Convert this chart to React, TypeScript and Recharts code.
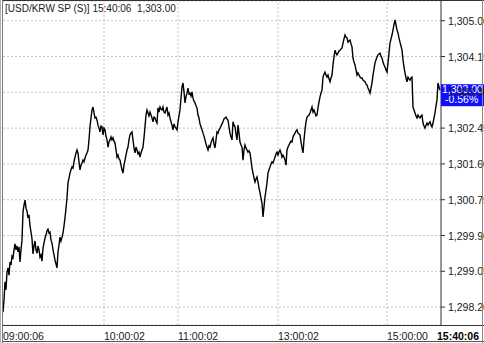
import { LineChart, Line, XAxis, YAxis, CartesianGrid, ReferenceLine, ReferenceDot } from 'recharts'

const TITLE = '[USD/KRW SP (S)] 15:40:06  1,303.00'
const lastPriceLabel = '1,303.00'
const changeLabel = '-0.56%'

// one value per tick step
const prices: number[] = [
  1298.08, 1298.37, 1298.80, 1298.61, 1299.03, 1299.13, 1298.96, 1299.27, 1299.20, 1299.41,
  1299.37, 1299.56, 1299.70, 1299.56, 1299.65, 1299.51, 1299.63, 1299.27, 1299.56, 1299.79,
  1300.46, 1300.62, 1300.74, 1300.55, 1300.48, 1300.32, 1300.39, 1300.13, 1299.98, 1299.82,
  1299.46, 1299.65, 1299.77, 1299.56, 1299.48, 1299.65, 1299.56, 1299.39, 1299.44, 1299.29,
  1299.60, 1299.72, 1299.84, 1299.91, 1300.01, 1300.05, 1299.96, 1299.98, 1299.79, 1299.72,
  1299.56, 1299.44, 1299.32, 1299.22, 1299.13, 1299.51, 1299.67, 1299.86, 1299.77, 1299.86,
  1299.96, 1300.13, 1300.32, 1300.55, 1300.79, 1301.15, 1301.27, 1301.38, 1301.46, 1301.53,
  1301.50, 1301.65, 1301.76, 1301.86, 1301.93, 1301.86, 1301.65, 1301.46, 1301.57, 1301.62,
  1301.69, 1301.65, 1301.74, 1301.81, 1301.86, 1301.93, 1302.17, 1302.48, 1302.69, 1302.88,
  1302.95, 1302.81, 1302.69, 1302.71, 1302.64, 1302.52, 1302.45, 1302.36, 1302.50, 1302.48,
  1302.29, 1302.45, 1302.41, 1302.26, 1302.17, 1302.00, 1302.12, 1302.17, 1302.24, 1302.17,
  1302.22, 1302.14, 1302.10, 1301.93, 1301.76, 1301.81, 1301.72, 1301.69, 1301.57, 1301.46,
  1301.38, 1301.57, 1301.69, 1301.81, 1301.93, 1302.00, 1302.17, 1302.29, 1302.33, 1302.36,
  1302.17, 1301.98, 1301.86, 1302.00, 1301.93, 1301.84, 1301.88, 1301.76, 1301.86, 1301.93,
  1302.00, 1302.22, 1302.48, 1302.76, 1302.88, 1302.81, 1302.74, 1302.83, 1302.76, 1302.69,
  1302.60, 1302.71, 1302.69, 1302.62, 1302.57, 1302.93, 1302.83, 1302.95, 1302.90, 1302.88,
  1302.95, 1302.83, 1302.81, 1302.88, 1302.95, 1302.76, 1302.81, 1302.69, 1302.60, 1302.52,
  1302.41, 1302.55, 1302.48, 1302.45, 1302.41, 1302.60, 1302.74, 1302.88, 1303.16, 1303.43,
  1303.52, 1303.31, 1303.05, 1303.19, 1303.28, 1303.40, 1303.26, 1303.28, 1303.21, 1303.31,
  1303.16, 1303.09, 1303.05, 1302.98, 1302.93, 1302.76, 1302.69, 1302.55, 1302.48, 1302.41,
  1302.33, 1302.26, 1302.17, 1302.07, 1302.00, 1301.93, 1302.03, 1302.00, 1302.10, 1302.17,
  1302.22, 1302.07, 1301.98, 1302.17, 1302.36, 1302.33, 1302.41, 1302.45, 1302.50, 1302.55,
  1302.60, 1302.67, 1302.69, 1302.71, 1302.67, 1302.64, 1302.48, 1302.33, 1302.24, 1302.17,
  1302.60, 1302.52, 1302.48, 1302.31, 1302.17, 1302.52, 1302.33, 1302.12, 1302.05, 1302.00,
  1301.69, 1301.93, 1302.05, 1301.98, 1301.93, 1301.88, 1301.91, 1301.86, 1301.69, 1301.50,
  1301.38, 1301.27, 1301.17, 1301.24, 1301.29, 1301.17, 1301.03, 1300.91, 1300.79, 1300.67,
  1300.34, 1300.58, 1300.81, 1300.98, 1301.15, 1301.38, 1301.46, 1301.53, 1301.60, 1301.65,
  1301.62, 1301.69, 1301.76, 1301.84, 1301.88, 1301.81, 1301.88, 1301.93, 1301.86, 1301.76,
  1301.81, 1301.76, 1301.69, 1301.57, 1301.93, 1302.00, 1302.05, 1302.10, 1302.14, 1302.12,
  1302.24, 1302.29, 1302.33, 1302.38, 1302.41, 1302.33, 1302.31, 1302.29, 1302.12, 1301.98,
  1301.86, 1302.17, 1302.41, 1302.60, 1302.71, 1302.74, 1302.76, 1302.81, 1302.88, 1302.95,
  1302.83, 1302.88, 1302.81, 1302.74, 1302.76, 1302.93, 1303.07, 1303.19, 1303.28, 1303.35,
  1303.66, 1303.73, 1303.78, 1303.71, 1303.66, 1303.71, 1303.62, 1303.55, 1303.64, 1303.71,
  1303.95, 1304.14, 1304.30, 1304.23, 1304.19, 1304.23, 1304.28, 1304.30, 1304.33, 1304.35,
  1304.47, 1304.57, 1304.66, 1304.61, 1304.59, 1304.49, 1304.52, 1304.54, 1304.45, 1304.38,
  1304.11, 1304.02, 1303.95, 1303.83, 1303.71, 1303.76, 1303.71, 1303.66, 1303.64, 1303.64,
  1303.59, 1303.57, 1303.55, 1303.50, 1303.47, 1303.40, 1303.35, 1303.28, 1303.40, 1303.52,
  1303.71, 1303.85, 1304.00, 1304.07, 1304.14, 1304.19, 1304.21, 1304.23, 1304.16, 1304.11,
  1304.02, 1303.95, 1303.90, 1303.83, 1303.78, 1304.00, 1304.23, 1304.47, 1304.57, 1304.66,
  1304.78, 1304.90, 1305.02, 1304.90, 1304.78, 1304.71, 1304.59, 1304.49, 1304.40, 1304.30,
  1304.07, 1303.90, 1303.76, 1303.64, 1303.55, 1303.66, 1303.62, 1303.59, 1303.64, 1303.66,
  1302.95, 1302.88, 1302.81, 1302.74, 1302.69, 1302.76, 1302.71, 1302.69, 1302.74, 1302.76,
  1302.57, 1302.50, 1302.45, 1302.52, 1302.57, 1302.52, 1302.57, 1302.60, 1302.52, 1302.48,
  1302.57, 1302.69, 1302.81, 1302.98, 1303.12, 1303.52, 1303.43, 1303.35,
]

const priceTicks = [1298.2, 1299.05, 1299.9, 1300.75, 1301.6, 1302.45, 1303.3, 1304.15, 1305.0]
const priceDomain = [1297.775, 1305.468]

// tick sequence positions and their times
const timeTicks = [0, 101, 175, 275, 384, 437]
const timeLabels = ['09:00:06', '10:00:02', '11:00:02', '13:00:02', '15:00:00', '15:40:06']

const data = prices.map((price, seq) => ({ seq, price }))
const lastSeq = data.length - 1
const lastPrice = prices[prices.length - 1]

const FONT = '"Liberation Sans", Arial, sans-serif'
const INK = '#1a1a1a'
const GRID = '#c4c4c4'

function fmtPrice(n: number): string {
  return n.toLocaleString('en-US', { minimumFractionDigits: 2, maximumFractionDigits: 2 })
}

function TimeTick({ x, y, payload }: any) {
  const i = timeTicks.indexOf(payload.value)
  const isLast = i === timeTicks.length - 1
  return (
    <text
      x={isLast ? x - 3 : x}
      y={y + 13}
      textAnchor="start"
      fontSize={10.5}
      fontFamily={FONT}
      fontWeight={isLast ? 'bold' : 'normal'}
      fill={isLast ? '#000' : INK}
    >
      {timeLabels[i]}
    </text>
  )
}

function PriceTick({ x, y, payload }: any) {
  return (
    <text x={x + 1} y={y + 4} textAnchor="start" fontSize={10.5} fontFamily={FONT} fill={INK}>
      {fmtPrice(payload.value)}
    </text>
  )
}

function PriceTag({ cx, cy }: any) {
  const left = cx + 1
  const top = cy - 6
  return (
    <g>
      <rect x={left} y={top} width={44} height={22} fill="#1010ff" />
      <text x={left + 1} y={top + 9} fontSize={10.5} fontFamily={FONT} fill="#fff">
        {lastPriceLabel}
      </text>
      <text x={left + 4} y={top + 19} fontSize={10.5} fontFamily={FONT} fill="#fff">
        {changeLabel}
      </text>
    </g>
  )
}

export default function App() {
  return (
    <div style={{ position: 'absolute', left: 0, top: 0, width: 484, height: 343, background: '#fff', overflow: 'hidden' }}>
      <LineChart width={484} height={343} data={data} margin={{ top: 1, right: 0, left: 3, bottom: 0 }}>
        <CartesianGrid stroke={GRID} strokeDasharray="2 2" vertical={false} />
        {timeTicks.slice(1, -1).map((t) => (
          <ReferenceLine key={t} x={t} stroke={GRID} strokeDasharray="2 2" />
        ))}
        <XAxis
          dataKey="seq"
          type="number"
          domain={[0, 438]}
          ticks={timeTicks}
          tick={<TimeTick />}
          tickLine={false}
          axisLine={false}
          tickSize={0}
          height={18}
          interval={0}
        />
        <YAxis
          orientation="right"
          domain={priceDomain}
          allowDataOverflow
          ticks={priceTicks}
          tick={<PriceTick />}
          tickSize={4}
          tickLine={{ stroke: '#333' }}
          axisLine={{ stroke: '#333' }}
          width={43}
          interval={0}
        />
        <Line
          type="linear"
          dataKey="price"
          stroke="#000"
          strokeWidth={1.4}
          dot={false}
          isAnimationActive={false}
        />
        <ReferenceDot x={lastSeq} y={lastPrice} r={0} shape={<PriceTag />} />
      </LineChart>
      <div style={{ position: 'absolute', left: 5, top: 3, fontFamily: FONT, fontSize: 10, color: INK, whiteSpace: 'pre' }}>
        {TITLE}
      </div>
      {/* frame */}
      <div style={{ position: 'absolute', left: 0, top: 0, width: 1, height: 343, background: '#b0b0b0' }} />
      <div style={{ position: 'absolute', left: 2, top: 0, width: 1, height: 343, background: '#7a7a7a' }} />
      <div style={{ position: 'absolute', left: 3, top: 0, width: 481, height: 1, background: '#333' }} />
      <div style={{ position: 'absolute', left: 3, top: 325, width: 481, height: 1, background: '#333' }} />
      <div style={{ position: 'absolute', left: 3, top: 341, width: 481, height: 1, background: '#555' }} />
      <div style={{ position: 'absolute', left: 482, top: 0, width: 1, height: 343, background: '#888' }} />
    </div>
  )
}
